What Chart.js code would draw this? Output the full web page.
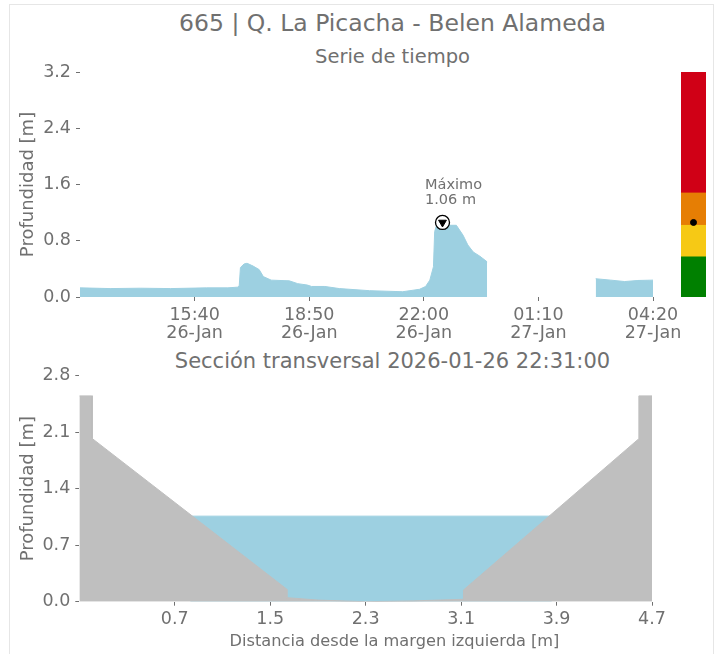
<!DOCTYPE html>
<html>
<head>
<meta charset="utf-8">
<script src="https://cdn.jsdelivr.net/npm/chart.js@4.4.1/dist/chart.umd.min.js"></script>
<style>
    body { margin: 0; background: #fff; }
    #page { position: relative; width: 721px; height: 654px; overflow: hidden; font-family: "DejaVu Sans", sans-serif; color: #707070; }
    .frame { position: absolute; left: 9px; top: 4px; width: 703px; height: 700px; border: 1px solid #e6e6e6; }
    .box { position: absolute; }
    .title { position: absolute; left: 0; width: 785px; text-align: center; line-height: 1; white-space: nowrap; }
</style>
</head>
<body>
<div id="page">
    <div class="frame"></div>
    <div class="title" id="mainTitle" style="top:12px;font-size:23.5px"></div>
    <div class="title" style="top:47px;font-size:19.5px">Serie de tiempo</div>
    <div class="box" style="left:0;top:0;width:721px;height:345px"><canvas id="seriesChart"></canvas></div>
    <div class="box" style="left:681px;top:72px;width:25px;height:225px"><canvas id="levelChart"></canvas></div>
    <div class="title" id="sectionTitle" style="top:351px;font-size:21px"></div>
    <div class="box" style="left:0;top:345px;width:721px;height:309px"><canvas id="sectionChart"></canvas></div>
    <div class="title" style="top:632.5px;width:789px;font-size:16.2px">Distancia desde la margen izquierda [m]</div>
</div>
<script>

/* =========================
   DATA
========================= */

const stationTitle = '665 | Q. La Picacha - Belen Alameda';

// time series (day hh:mm), depth in m, null = no data
const seriesTimes = [
    '26 12:30', '26 13:20', '26 14:10', '26 15:00', '26 16:00', '26 16:35',
    '26 16:51', '26 16:54', '26 16:56', '26 17:02', '26 17:07', '26 17:17',
    '26 17:27', '26 17:34', '26 17:47', '26 18:17', '26 18:31', '26 18:47',
    '26 18:54', '26 19:16', '26 19:40', '26 20:30', '26 21:25', '26 21:53',
    '26 22:03', '26 22:10', '26 22:16', '26 22:18', '26 22:21', '26 22:31',
    '26 22:37', '26 22:54', '26 23:05', '26 23:13', '26 23:22', '26 23:33',
    '26 23:45', '26 23:46',
    '27 02:45', '27 03:10', '27 03:33', '27 03:55', '27 04:20'
];
const seriesDepth = [
    0.13, 0.12, 0.125, 0.12, 0.13, 0.13,
    0.14, 0.16, 0.42, 0.47, 0.48, 0.44,
    0.39, 0.29, 0.24, 0.23, 0.19, 0.17,
    0.15, 0.15, 0.12, 0.09, 0.075, 0.11,
    0.15, 0.24, 0.43, 0.93, 1.02, 1.06,
    1.02, 1.02, 0.88, 0.74, 0.64, 0.58,
    0.50, null,
    0.26, 0.24, 0.22, 0.235, 0.24
];

const timeAxisStart = '26 12:30';
const timeAxisEnd = '27 04:20';
const timeTicks = ['26 15:40', '26 18:50', '26 22:00', '27 01:10', '27 04:20'];
const timeTickLabels = [
    ['15:40', '26-Jan'], ['18:50', '26-Jan'], ['22:00', '26-Jan'],
    ['01:10', '27-Jan'], ['04:20', '27-Jan']
];
const depthTicks = [0, 0.8, 1.6, 2.4, 3.2];

// alert level bands
const levelBounds = [0, 0.57, 1.02, 1.48, 3.2];
const levelColors = ['#008000', '#f6c915', '#e67e04', '#d00016'];

// cross section
const sectionTime = '2026-01-26 22:31:00';
const sectionDistance = [-0.1, 0.01, 0.01, 1.64, 1.64, 1.9, 2.3, 2.7, 3.12, 3.12, 4.59, 4.59, 4.7];
const sectionBed =      [2.55, 2.55, 2.02, 0.154, 0.05, 0.02, 0.0, 0.01, 0.03, 0.145, 2.02, 2.55, 2.55];
const waterEdges = [0.83, 3.86];
const distanceTicks = [0.7, 1.5, 2.3, 3.1, 3.9, 4.7];
const sectionDepthTicks = [0, 0.7, 1.4, 2.1, 2.8];

/* =========================
   HELPERS
========================= */

const textGray = '#707070';
const waterBlue = '#9dd0e1';
const groundGray = '#bfbfbf';

Chart.defaults.font.family = '"DejaVu Sans", sans-serif';
Chart.defaults.color = textGray;
Chart.defaults.animation = false;
Chart.defaults.plugins.legend.display = false;
Chart.defaults.plugins.tooltip.enabled = false;

function toMinutes(s){
    const [day, hm] = s.split(' ');
    const [h, m] = hm.split(':').map(Number);
    return (Number(day) - 26) * 1440 + h * 60 + m;
}

const seriesPoints = seriesTimes.map((t, i) => ({ x: toMinutes(t), y: seriesDepth[i] }));

let maxPoint = seriesPoints[0];
seriesPoints.forEach(p => {
    if(p.y !== null && p.y > maxPoint.y){
        maxPoint = p;
    }
});

document.getElementById('mainTitle').textContent = stationTitle;
document.getElementById('sectionTitle').textContent = 'Sección transversal ' + sectionTime;

const tickGrid = {
    display: true,
    drawOnChartArea: false,
    drawTicks: true,
    tickLength: 4,
    color: textGray,
    lineWidth: 1
};

const tickFont = { size: 17.5, lineHeight: 1.03 };

/* =========================
   SERIE DE TIEMPO
========================= */

const maxLabel = {
    id: 'maxLabel',
    afterDatasetsDraw(chart){
        const { ctx, scales: { x, y } } = chart;
        const px = x.getPixelForValue(maxPoint.x);
        const py = y.getPixelForValue(maxPoint.y);
        ctx.save();
        ctx.font = '14.5px "DejaVu Sans"';
        ctx.fillStyle = textGray;
        ctx.textAlign = 'left';
        ctx.textBaseline = 'middle';
        ctx.fillText('Máximo', px - 17.5, py - 37.5);
        ctx.fillText(maxPoint.y.toFixed(2) + ' m', px - 17.5, py - 22.5);
        ctx.restore();
    }
};

new Chart(document.getElementById('seriesChart'), {
    type: 'line',
    data: {
        datasets: [
            {
                data: [maxPoint],
                pointStyle: 'triangle',
                pointRotation: 180,
                pointRadius: 4.5,
                pointBackgroundColor: '#000',
                pointBorderColor: '#000',
                showLine: false
            },
            {
                data: [maxPoint],
                pointStyle: 'circle',
                pointRadius: 7,
                pointBackgroundColor: '#fff',
                pointBorderColor: '#000',
                pointBorderWidth: 1.3,
                showLine: false
            },
            {
                data: seriesPoints,
                borderColor: waterBlue,
                backgroundColor: waterBlue,
                borderWidth: 1,
                pointRadius: 0,
                tension: 0,
                fill: 'origin'
            }
        ]
    },
    options: {
        responsive: true,
        maintainAspectRatio: false,
        layout: { autoPadding: false, padding: { left: 0, right: 68, top: 72, bottom: 0 } },
        scales: {
            x: {
                type: 'linear',
                min: toMinutes(timeAxisStart),
                max: toMinutes(timeAxisEnd),
                afterBuildTicks: axis => { axis.ticks = timeTicks.map(t => ({ value: toMinutes(t) })); },
                afterFit: axis => { axis.height = 48; },
                grid: tickGrid,
                border: { display: false },
                ticks: {
                    font: tickFont,
                    padding: 5,
                    maxRotation: 0,
                    autoSkip: false,
                    callback: (v, i) => timeTickLabels[i]
                }
            },
            y: {
                min: 0,
                max: 3.2,
                afterBuildTicks: axis => { axis.ticks = depthTicks.map(v => ({ value: v })); },
                afterFit: axis => { axis.width = 80; },
                grid: tickGrid,
                border: { display: false },
                ticks: {
                    font: tickFont,
                    padding: 5,
                    callback: v => v.toFixed(1)
                },
                title: {
                    display: true,
                    text: 'Profundidad [m]',
                    font: { size: 18 },
                    padding: { top: 18, bottom: 0 }
                }
            }
        }
    },
    plugins: [maxLabel]
});

/* =========================
   NIVELES DE ALERTA
========================= */

const levelDatasets = levelColors.map((color, i) => ({
    data: [[levelBounds[i], levelBounds[i + 1]]],
    backgroundColor: color,
    borderWidth: 0,
    grouped: false,
    barPercentage: 1,
    categoryPercentage: 1
}));

new Chart(document.getElementById('levelChart'), {
    type: 'bar',
    data: {
        labels: ['nivel'],
        datasets: [
            {
                type: 'line',
                data: [maxPoint.y],
                showLine: false,
                pointRadius: 3,
                pointBackgroundColor: '#000',
                pointBorderColor: '#000'
            },
            ...levelDatasets
        ]
    },
    options: {
        responsive: true,
        maintainAspectRatio: false,
        layout: { autoPadding: false, padding: 0 },
        scales: {
            x: { display: false },
            y: { display: false, min: 0, max: 3.2 }
        }
    }
});

/* =========================
   SECCION TRANSVERSAL
========================= */

const groundPoints = sectionDistance.map((d, i) => ({ x: d, y: sectionBed[i] }));
const waterPoints = waterEdges.map(d => ({ x: d, y: maxPoint.y }));

new Chart(document.getElementById('sectionChart'), {
    type: 'line',
    data: {
        datasets: [
            {
                data: groundPoints,
                borderColor: groundGray,
                backgroundColor: groundGray,
                borderWidth: 1,
                pointRadius: 0,
                fill: 'origin'
            },
            {
                data: waterPoints,
                borderColor: waterBlue,
                backgroundColor: waterBlue,
                borderWidth: 1,
                pointRadius: 0,
                fill: 'origin'
            }
        ]
    },
    options: {
        responsive: true,
        maintainAspectRatio: false,
        layout: { autoPadding: false, padding: { left: 0, right: 69, top: 30.7, bottom: 0 } },
        scales: {
            x: {
                type: 'linear',
                min: -0.1,
                max: 4.7,
                afterBuildTicks: axis => { axis.ticks = distanceTicks.map(v => ({ value: v })); },
                afterFit: axis => { axis.height = 52.3; },
                grid: tickGrid,
                border: { display: false },
                ticks: {
                    font: tickFont,
                    padding: 5,
                    maxRotation: 0,
                    autoSkip: false,
                    callback: v => v.toFixed(1)
                }
            },
            y: {
                min: 0,
                max: 2.8,
                afterBuildTicks: axis => { axis.ticks = sectionDepthTicks.map(v => ({ value: v })); },
                afterFit: axis => { axis.width = 79.3; },
                grid: tickGrid,
                border: { display: false },
                ticks: {
                    font: tickFont,
                    padding: 5,
                    callback: v => v.toFixed(1)
                },
                title: {
                    display: true,
                    text: 'Profundidad [m]',
                    font: { size: 18 },
                    padding: { top: 18, bottom: 0 }
                }
            }
        }
    }
});

</script>
</body>
</html>
